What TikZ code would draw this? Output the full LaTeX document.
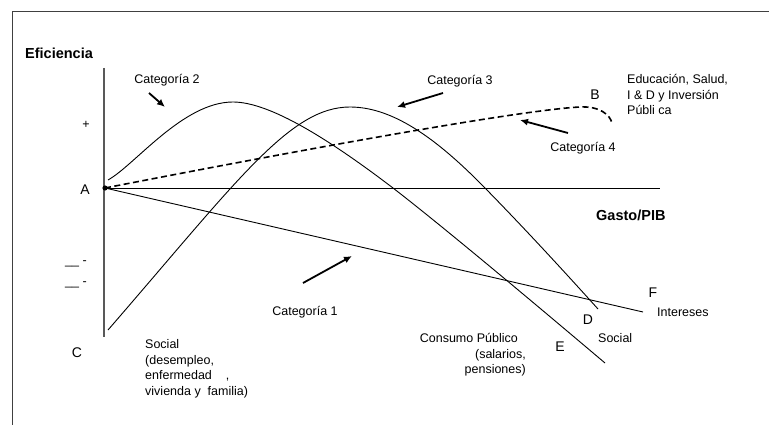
\documentclass[tikz,border=0pt]{standalone}
\usepackage{fontspec}
\setmainfont{Liberation Sans}
\usetikzlibrary{arrows.meta}
\tikzset{
  lbl/.style={font=\fontsize{12.5}{15.6}\selectfont, inner sep=0pt},
  letra/.style={font=\fontsize{14}{16}\selectfont, inner sep=0pt},
  titulo/.style={font=\fontsize{14.5}{17}\selectfont\bfseries, inner sep=0pt},
  curva/.style={line width=0.9pt},
  flecha/.style={-{Latex[length=8pt,width=7pt]}, line width=1.8pt},
}
\begin{document}
\begin{tikzpicture}[x=1pt,y=-1pt]
\useasboundingbox (0,0) rectangle (769,425);
% marco y ejes
\draw[line width=1pt, black!75] (12,425) -- (12,12) -- (769,12);
\coordinate (A) at (105,188);
\draw[line width=1.2pt, black!65] (104,68) -- (104,337);
\draw[line width=0.9pt] (A) -- (660,188);
\fill (A) circle (2.6pt);
\node[titulo, anchor=west] (efic) at (25,53) {Eficiencia};
\node[titulo, anchor=west] (gasto) at (596,215) {Gasto/PIB};
\node[lbl] (mas) at (86,125) {+};
\node[lbl, anchor=base west] (menos1) at (65,264.5) {\_\_ -};
\node[lbl, anchor=base west] (menos2) at (65,285.5) {\_\_ -};
\node[letra] (la) at (85,190) {A};
\node[letra] (lb) at (595,95) {B};
\node[letra] (lc) at (77,353) {C};
\node[letra] (ld) at (588,320) {D};
\node[letra] (le) at (560,347) {E};
\node[letra] (lf) at (653,293) {F};
% curvas
\draw[curva] (108,180) .. controls (135,165) and (183,102) .. (233,102)
  .. controls (270,102) and (330,140) .. (393,188)
  .. controls (450,232) and (560,325) .. (605,363);
\draw[curva] (108,330) .. controls (238,180) and (290,107) .. (350,107)
  .. controls (395,107) and (440,142) .. (485,188)
  .. controls (530,234) and (570,278) .. (598,309);
\draw[line width=1.6pt, dash pattern=on 6pt off 3.5pt] (A)
  .. controls (300,150) and (520,110) .. (580,107)
  .. controls (600,106) and (610,115) .. (612,123);
\draw[curva] (A) -- (643,312);
% categorias
\node[lbl] (cat1) at (305,312) {Categoría 1};
\node[lbl] (cat2) at (167,80) {Categoría 2};
\node[lbl] (cat3) at (460,81) {Categoría 3};
\node[lbl] (cat4) at (583,148) {Categoría 4};
\draw[flecha] (cat1) ++(-2,-29) -- ++(49,-27);
\draw[flecha] (cat2) ++(-18,13) -- ++(16,14);
\draw[flecha] (cat3) ++(-17,12) -- ++(-46,14);
\draw[flecha] (cat4) ++(-15,-15) -- ++(-48,-13);
\node[lbl, anchor=north west, align=left] (edu) at (627,74)
  {Educación, Salud,\\I \& D y Inversión\\Públi ca};
\node[lbl, anchor=north west, align=left] (social1) at (145,339.5)
  {Social\\(desempleo,\\enfermedad\ \ \ \ ,\\vivienda y\ \ familia)};
\node[lbl, anchor=north east, align=right] (consumo) at (526,333)
  {Consumo Público\hspace*{8pt}\\(salarios,\\pensiones)};
\node[lbl, anchor=west] (intereses) at (657,312) {Intereses};
\node[lbl, anchor=west] (social2) at (598,338) {Social};
\end{tikzpicture}
\end{document}
